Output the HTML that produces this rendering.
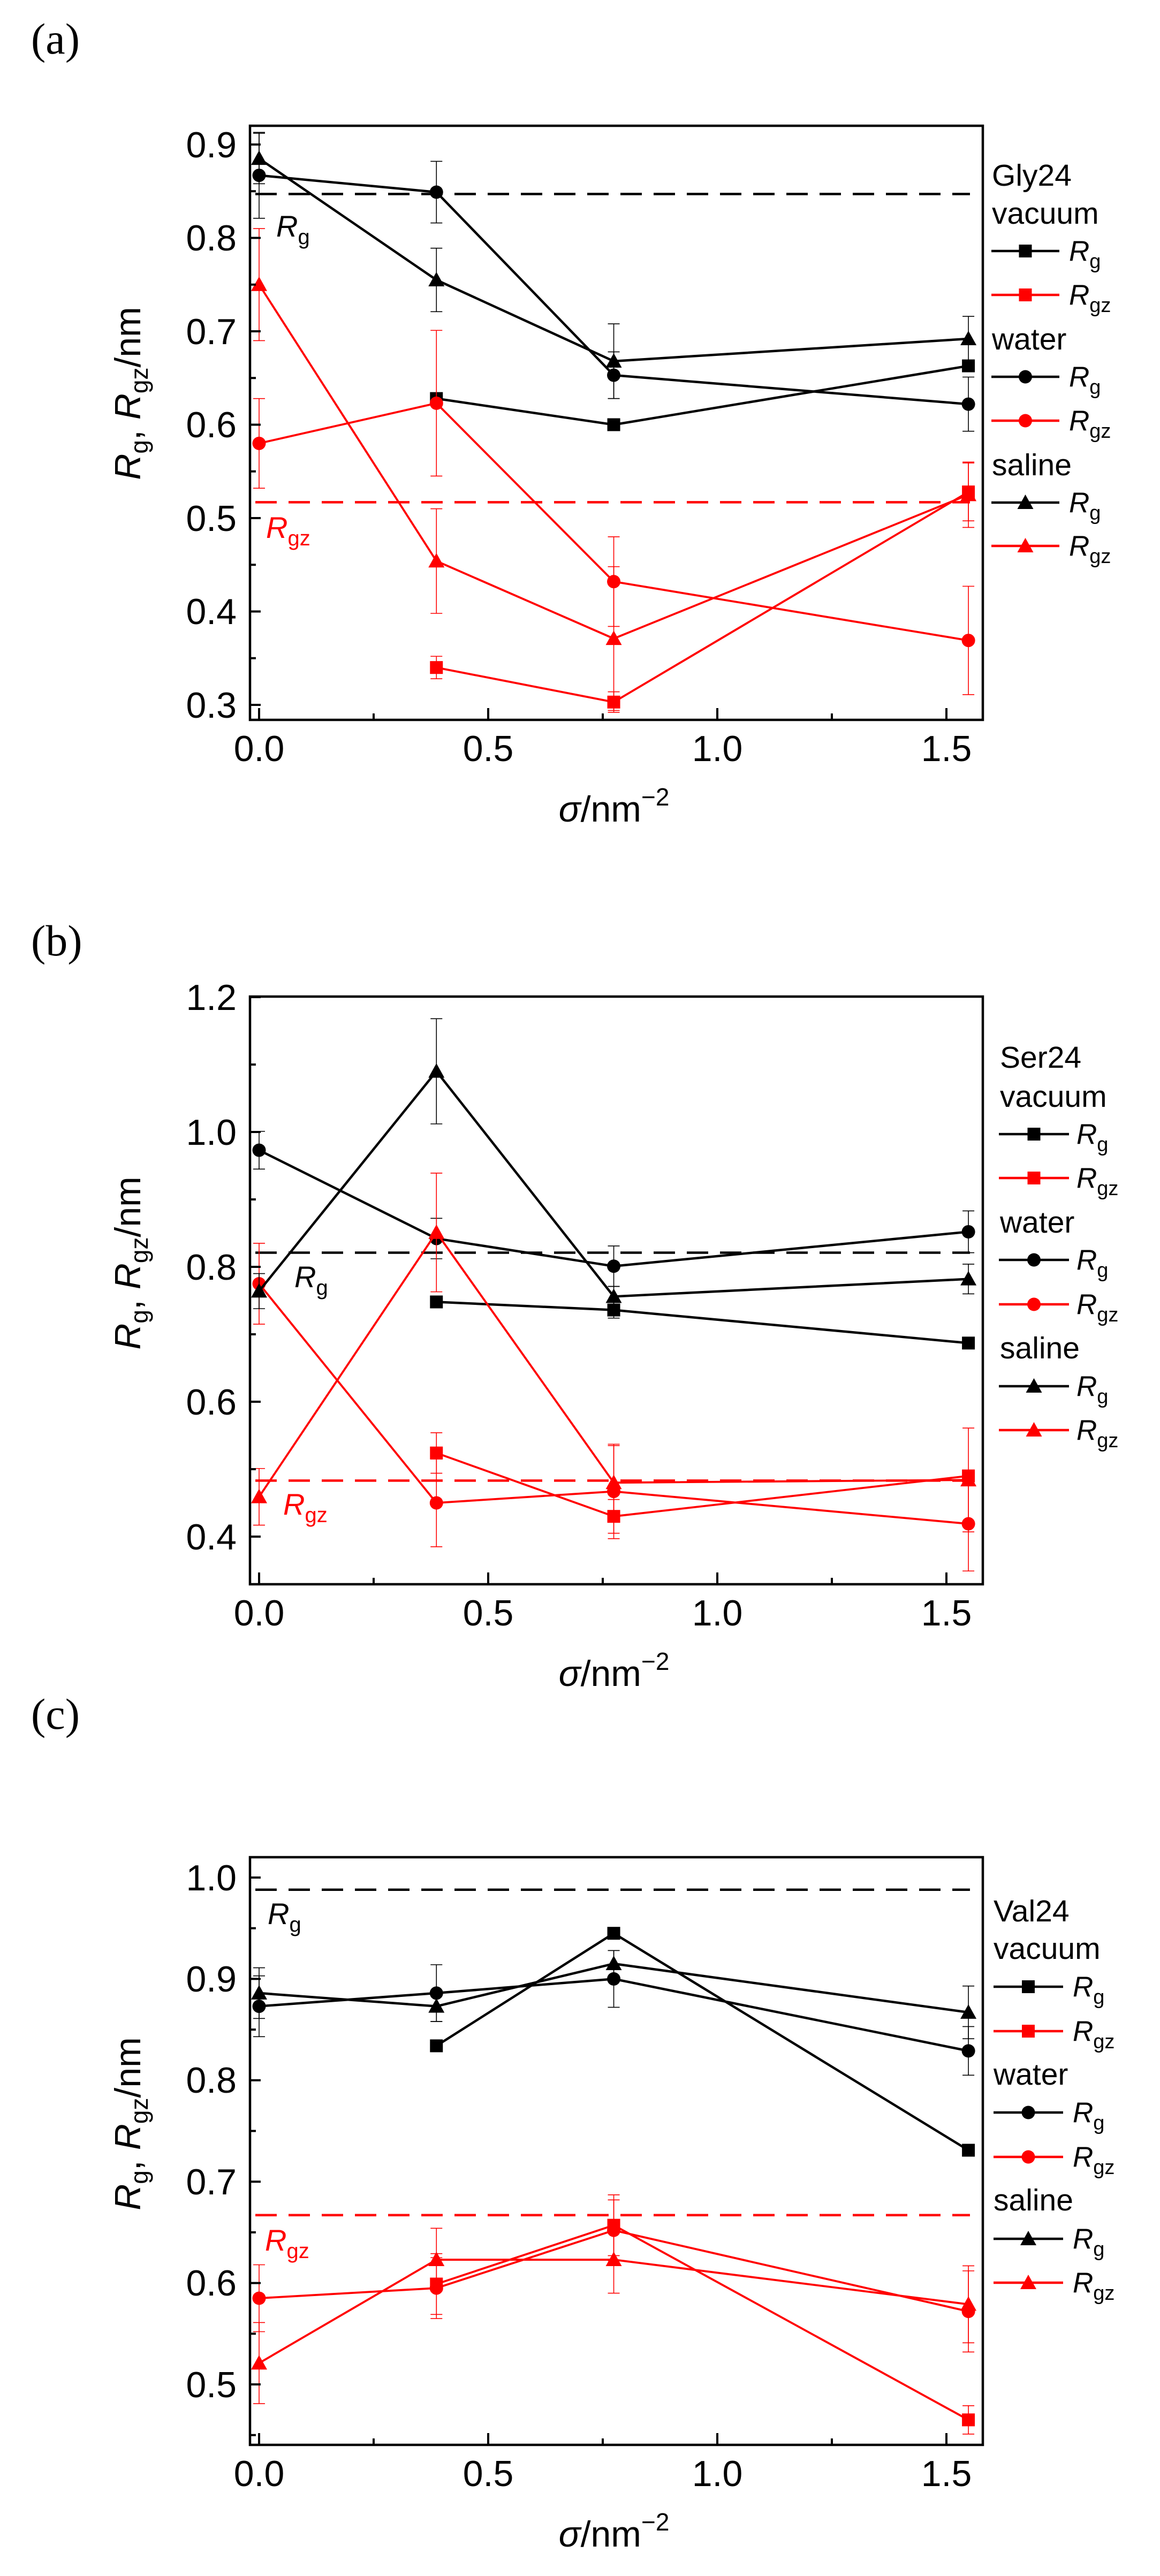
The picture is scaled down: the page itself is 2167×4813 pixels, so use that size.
<!DOCTYPE html>
<html><head><meta charset="utf-8"><style>
html,body{margin:0;padding:0;background:#fff;}
svg{display:block;}
text{font-family:"Liberation Sans",sans-serif;}
.lab{font-family:"Liberation Serif",serif;font-size:82px;}
.tk{font-size:68px;}
.lg{font-size:57px;}
.lr{font-size:53px;}
</style></head><body>
<svg id="s" width="2167" height="4813" viewBox="0 0 2167 4813" xmlns="http://www.w3.org/2000/svg">
<rect width="2167" height="4813" fill="#fff"/>
<g id="g"></g>
<text class="lab" x="58" y="100">(a)</text>
<text class="lab" x="58" y="1785">(b)</text>
<text class="lab" x="58" y="3230">(c)</text>

<g class="tk" text-anchor="end">
<text x="442" y="294">0.9</text><text x="442" y="468">0.8</text><text x="442" y="643">0.7</text>
<text x="442" y="817">0.6</text><text x="442" y="992">0.5</text><text x="442" y="1166">0.4</text><text x="442" y="1341">0.3</text>
</g>
<g class="tk" text-anchor="middle">
<text x="484" y="1422">0.0</text><text x="912" y="1422">0.5</text><text x="1340" y="1422">1.0</text><text x="1768" y="1422">1.5</text>
</g>
<text transform="translate(262,735) rotate(-90)" text-anchor="middle" font-size="68"><tspan font-style="italic">R</tspan><tspan font-size="46" dy="14">g</tspan><tspan dy="-14">,  </tspan><tspan font-style="italic">R</tspan><tspan font-size="46" dy="14">gz</tspan><tspan dy="-14">/nm</tspan></text>
<text x="1147" y="1535" text-anchor="middle" font-size="68"><tspan font-style="italic">σ</tspan>/nm<tspan font-size="46" dy="-30">−2</tspan></text>
<text x="516" y="442" font-size="56"><tspan font-style="italic">R</tspan><tspan font-size="40" dy="14">g</tspan></text>
<text x="497" y="1005" font-size="56" fill="#f00"><tspan font-style="italic">R</tspan><tspan font-size="40" dy="14">gz</tspan></text>
<g class="lg"><text x="1853" y="347">Gly24</text><text x="1853" y="418">vacuum</text><text x="1853" y="653">water</text><text x="1853" y="888">saline</text></g>

<g class="tk" text-anchor="end">
<text x="442" y="1887">1.2</text><text x="442" y="2139">1.0</text><text x="442" y="2391">0.8</text><text x="442" y="2643">0.6</text><text x="442" y="2895">0.4</text>
</g>
<g class="tk" text-anchor="middle">
<text x="484" y="3037">0.0</text><text x="912" y="3037">0.5</text><text x="1340" y="3037">1.0</text><text x="1768" y="3037">1.5</text>
</g>
<text transform="translate(262,2360) rotate(-90)" text-anchor="middle" font-size="68"><tspan font-style="italic">R</tspan><tspan font-size="46" dy="14">g</tspan><tspan dy="-14">,  </tspan><tspan font-style="italic">R</tspan><tspan font-size="46" dy="14">gz</tspan><tspan dy="-14">/nm</tspan></text>
<text x="1147" y="3150" text-anchor="middle" font-size="68"><tspan font-style="italic">σ</tspan>/nm<tspan font-size="46" dy="-30">−2</tspan></text>
<text x="550" y="2405" font-size="56"><tspan font-style="italic">R</tspan><tspan font-size="40" dy="14">g</tspan></text>
<text x="529" y="2830" font-size="56" fill="#f00"><tspan font-style="italic">R</tspan><tspan font-size="40" dy="14">gz</tspan></text>
<g class="lg"><text x="1868" y="1995">Ser24</text><text x="1868" y="2068">vacuum</text><text x="1868" y="2303">water</text><text x="1868" y="2538">saline</text></g>

<g class="tk" text-anchor="end">
<text x="442" y="3532">1.0</text><text x="442" y="3721">0.9</text><text x="442" y="3910">0.8</text><text x="442" y="4100">0.7</text><text x="442" y="4289">0.6</text><text x="442" y="4479">0.5</text>
</g>
<g class="tk" text-anchor="middle">
<text x="484" y="4645">0.0</text><text x="912" y="4645">0.5</text><text x="1340" y="4645">1.0</text><text x="1768" y="4645">1.5</text>
</g>
<text transform="translate(262,3968) rotate(-90)" text-anchor="middle" font-size="68"><tspan font-style="italic">R</tspan><tspan font-size="46" dy="14">g</tspan><tspan dy="-14">,  </tspan><tspan font-style="italic">R</tspan><tspan font-size="46" dy="14">gz</tspan><tspan dy="-14">/nm</tspan></text>
<text x="1147" y="4758" text-anchor="middle" font-size="68"><tspan font-style="italic">σ</tspan>/nm<tspan font-size="46" dy="-30">−2</tspan></text>
<text x="500" y="3595" font-size="56"><tspan font-style="italic">R</tspan><tspan font-size="40" dy="14">g</tspan></text>
<text x="495" y="4205" font-size="56" fill="#f00"><tspan font-style="italic">R</tspan><tspan font-size="40" dy="14">gz</tspan></text>
<g class="lg"><text x="1856" y="3590">Val24</text><text x="1856" y="3660">vacuum</text><text x="1856" y="3895">water</text><text x="1856" y="4130">saline</text></g>

<g class="lr">
<text x="1997" y="487"><tspan font-style="italic">R</tspan><tspan font-size="38" dy="14">g</tspan></text>
<text x="1997" y="569"><tspan font-style="italic">R</tspan><tspan font-size="38" dy="14">gz</tspan></text>
<text x="1997" y="722"><tspan font-style="italic">R</tspan><tspan font-size="38" dy="14">g</tspan></text>
<text x="1997" y="804"><tspan font-style="italic">R</tspan><tspan font-size="38" dy="14">gz</tspan></text>
<text x="1997" y="957"><tspan font-style="italic">R</tspan><tspan font-size="38" dy="14">g</tspan></text>
<text x="1997" y="1038"><tspan font-style="italic">R</tspan><tspan font-size="38" dy="14">gz</tspan></text>

<text x="2011" y="2137"><tspan font-style="italic">R</tspan><tspan font-size="38" dy="14">g</tspan></text>
<text x="2011" y="2219"><tspan font-style="italic">R</tspan><tspan font-size="38" dy="14">gz</tspan></text>
<text x="2011" y="2372"><tspan font-style="italic">R</tspan><tspan font-size="38" dy="14">g</tspan></text>
<text x="2011" y="2455"><tspan font-style="italic">R</tspan><tspan font-size="38" dy="14">gz</tspan></text>
<text x="2011" y="2608"><tspan font-style="italic">R</tspan><tspan font-size="38" dy="14">g</tspan></text>
<text x="2011" y="2690"><tspan font-style="italic">R</tspan><tspan font-size="38" dy="14">gz</tspan></text>

<text x="2004" y="3730"><tspan font-style="italic">R</tspan><tspan font-size="38" dy="14">g</tspan></text>
<text x="2004" y="3813"><tspan font-style="italic">R</tspan><tspan font-size="38" dy="14">gz</tspan></text>
<text x="2004" y="3965"><tspan font-style="italic">R</tspan><tspan font-size="38" dy="14">g</tspan></text>
<text x="2004" y="4048"><tspan font-style="italic">R</tspan><tspan font-size="38" dy="14">gz</tspan></text>
<text x="2004" y="4201"><tspan font-style="italic">R</tspan><tspan font-size="38" dy="14">g</tspan></text>
<text x="2004" y="4283"><tspan font-style="italic">R</tspan><tspan font-size="38" dy="14">gz</tspan></text>
</g>
</svg>
<script>
(function(){
var NS="http://www.w3.org/2000/svg",G=document.getElementById("g");
function el(t,a){var e=document.createElementNS(NS,t);for(var k in a)e.setAttribute(k,a[k]);G.appendChild(e);return e;}
function X(s){return 484+s*856;}
var L=467,R=1836;
function marker(type,cx,cy,col){
 if(type==="s")el("rect",{x:cx-12,y:cy-12,width:24,height:24,fill:col});
 else if(type==="c")el("circle",{cx:cx,cy:cy,r:12.5,fill:col});
 else el("polygon",{points:(cx-15)+","+(cy+12)+" "+(cx+15)+","+(cy+12)+" "+cx+","+(cy-15),fill:col});
}
function panel(p){
 var Y=p.Y;
 el("line",{x1:477,x2:1812,y1:Y(p.dk),y2:Y(p.dk),stroke:"#000","stroke-width":4.5,"stroke-dasharray":"40 22"});
 el("line",{x1:477,x2:1812,y1:Y(p.dr),y2:Y(p.dr),stroke:"#f00","stroke-width":4.5,"stroke-dasharray":"40 22"});
 p.series.forEach(function(s){
  var col=s.c,pts=s.p;
  pts.forEach(function(q){var x=X(q[0]),y1=Y(q[1]+q[2]),y2=Y(q[1]-q[2]);
   el("line",{x1:x,x2:x,y1:y1,y2:y2,stroke:col,"stroke-width":1.6});
   el("line",{x1:x-11,x2:x+11,y1:y1,y2:y1,stroke:col,"stroke-width":1.6});
   el("line",{x1:x-11,x2:x+11,y1:y2,y2:y2,stroke:col,"stroke-width":1.6});});
  el("polyline",{points:pts.map(function(q){return X(q[0])+","+Y(q[1]);}).join(" "),fill:"none",stroke:col,"stroke-width":col==="#000"?4.5:3.8,"stroke-linejoin":"round"});
  pts.forEach(function(q){marker(s.m,X(q[0]),Y(q[1]),col);});
 });
 el("rect",{x:L,y:p.top,width:R-L,height:p.bot-p.top,fill:"none",stroke:"#000","stroke-width":4.5});
 for(var v=p.ymin;v<=p.ymax+1e-6;v+=p.minor){
  var maj=Math.abs(Math.round(v/p.major)*p.major-v)<1e-6;
  var y=Y(v); if(y<p.top||y>p.bot)continue;
  el("line",{x1:L,x2:L+(maj?20:11),y1:y,y2:y,stroke:"#000","stroke-width":4});
 }
 for(var s=0;s<=1.5001;s+=0.25){var maj=Math.abs(s*2-Math.round(s*2))<1e-6;
  el("line",{x1:X(s),x2:X(s),y1:p.bot,y2:p.bot-(maj?22:12),stroke:"#000","stroke-width":4});}
 p.leg.forEach(function(r){
  el("line",{x1:p.lx1,x2:p.lx2,y1:r[0],y2:r[0],stroke:r[1],"stroke-width":4.5});
  marker(r[2],(p.lx1+p.lx2)/2,r[0],r[1]);
 });
}
var K="#000",Rd="#f00";
panel({top:235,bot:1345,Y:function(v){return 270+(0.9-v)*1745;},ymin:0.3,ymax:0.9,minor:0.05,major:0.1,dk:0.847,dr:0.517,
 lx1:1852,lx2:1979,leg:[[469,K,"s"],[551,Rd,"s"],[704,K,"c"],[786,Rd,"c"],[939,K,"t"],[1020,Rd,"t"]],
 series:[
 {c:K,m:"s",p:[[.387,.628,.005],[.774,.600,.005],[1.548,.663,.006]]},
 {c:Rd,m:"s",p:[[.387,.340,.012],[.774,.303,.011],[1.548,.528,.031]]},
 {c:K,m:"c",p:[[0,.867,.046],[.387,.849,.033],[.774,.653,.025],[1.548,.622,.029]]},
 {c:Rd,m:"c",p:[[0,.580,.048],[.387,.623,.078],[.774,.432,.048],[1.548,.369,.058]]},
 {c:K,m:"t",p:[[0,.885,.027],[.387,.755,.034],[.774,.668,.04],[1.548,.692,.024]]},
 {c:Rd,m:"t",p:[[0,.75,.06],[.387,.454,.056],[.774,.371,.077],[1.548,.525,.035]]}]});
panel({top:1862,bot:2960,Y:function(v){return 1863+(1.2-v)*1260;},ymin:0.4,ymax:1.2,minor:0.1,major:0.2,dk:0.821,dr:0.483,
 lx1:1866,lx2:1997,leg:[[2119,K,"s"],[2201,Rd,"s"],[2354,K,"c"],[2437,Rd,"c"],[2590,K,"t"],[2672,Rd,"t"]],
 series:[
 {c:K,m:"s",p:[[.387,.748,.005],[.774,.736,.012],[1.548,.687,.005]]},
 {c:Rd,m:"s",p:[[.387,.524,.03],[.774,.430,.025],[1.548,.490,.005]]},
 {c:K,m:"c",p:[[0,.973,.028],[.387,.842,.03],[.774,.801,.03],[1.548,.852,.031]]},
 {c:Rd,m:"c",p:[[0,.775,.06],[.387,.45,.065],[.774,.467,.07],[1.548,.419,.07]]},
 {c:K,m:"t",p:[[0,.764,.026],[.387,1.09,.078],[.774,.756,.015],[1.548,.782,.022]]},
 {c:Rd,m:"t",p:[[0,.459,.042],[.387,.851,.088],[.774,.48,.055],[1.548,.484,.077]]}]});
panel({top:3470,bot:4568,Y:function(v){return 3508+(1.0-v)*1894;},ymin:0.45,ymax:1.0,minor:0.05,major:0.1,dk:0.988,dr:0.667,
 lx1:1856,lx2:1986,leg:[[3712,K,"s"],[3795,Rd,"s"],[3947,K,"c"],[4030,Rd,"c"],[4183,K,"t"],[4265,Rd,"t"]],
 series:[
 {c:K,m:"s",p:[[.387,.834,.004],[.774,.945,.005],[1.548,.731,.004]]},
 {c:Rd,m:"s",p:[[.387,.599,.03],[.774,.657,.03],[1.548,.465,.014]]},
 {c:K,m:"c",p:[[0,.873,.03],[.387,.886,.028],[.774,.90,.028],[1.548,.829,.024]]},
 {c:Rd,m:"c",p:[[0,.585,.033],[.387,.595,.03],[.774,.652,.03],[1.548,.572,.04]]},
 {c:K,m:"t",p:[[0,.886,.025],[.387,.873,.015],[.774,.915,.013],[1.548,.867,.026]]},
 {c:Rd,m:"t",p:[[0,.521,.04],[.387,.623,.031],[.774,.623,.033],[1.548,.579,.038]]}]});
})();
</script>
</body></html>
